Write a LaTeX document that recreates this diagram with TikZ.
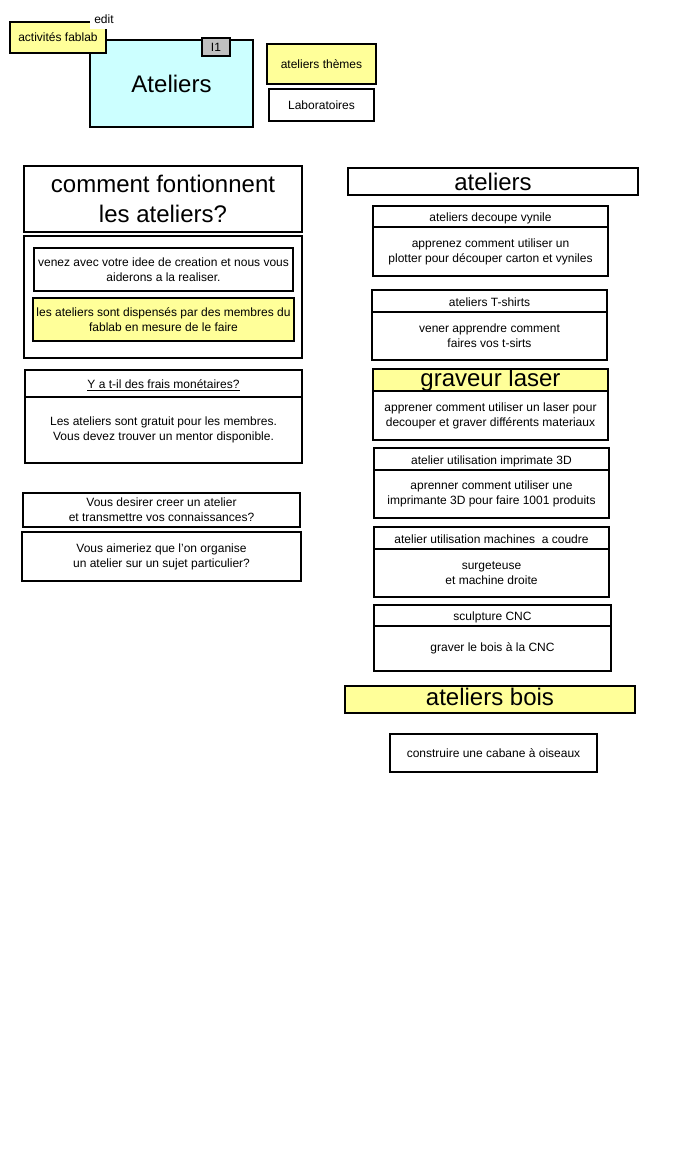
\documentclass[tikz,border=0pt]{standalone}
\usepackage{fontspec}
\setmainfont{Liberation Sans}
\definecolor{notejaune}{HTML}{FFFF99}
\definecolor{notecyan}{HTML}{CCFFFF}
\definecolor{notegris}{HTML}{C0C0C0}
\begin{document}
\begin{tikzpicture}[x=1pt,y=-1pt,
    boite/.style={draw,line width=1.4pt,inner sep=0pt,align=center,font=\fontsize{12}{15}\selectfont},
    grand/.style={font=\fontsize{24}{30}\selectfont},
    tete/.style={text height=11pt,text depth=1pt},
    grandtete/.style={grand,text height=17pt,text depth=5pt},
    jaune/.style={fill=notejaune}]
    \useasboundingbox[fill=white] (0,0) rectangle (675,1175);
    \node[boite,grand,fill=notecyan,minimum width=163pt,minimum height=87pt] (ateliers) at (171.5,83.5) {Ateliers};
    \node[boite,fill=notegris,minimum width=28pt,minimum height=18pt] (ident) at (216,47) {I1};
    \node[boite,jaune,minimum width=96pt,minimum height=31pt] (fablab) at (58,37.5) {activités fablab};
    \node[fill=white,inner sep=0pt,minimum width=28pt,minimum height=19pt,font=\fontsize{12}{15}\selectfont] (edit) at (104,19.5) {edit};
    \node[boite,jaune,minimum width=109pt,minimum height=40pt] (themes) at (321.5,64) {ateliers thèmes};
    \node[boite,minimum width=105pt,minimum height=32pt] (labo) at (321.5,105) {Laboratoires};
    \node[boite,grand,minimum width=278pt,minimum height=66pt] (question) at (163,199) {comment fontionnent\\les ateliers?};
    \node[boite,minimum width=278pt,minimum height=122pt] (groupe) at (163,297) {};
    \node[boite,minimum width=259pt,minimum height=43pt] (venez) at (163.5,269.5) {venez avec votre idee de creation et nous vous\\aiderons a la realiser.};
    \node[boite,jaune,minimum width=261pt,minimum height=43pt] (membres) at (163.5,319.5) {les ateliers sont dispensés par des membres du\\fablab en mesure de le faire};
    \node[boite,minimum width=277pt,minimum height=66pt] (fraiscorps) at (163.5,430) {Les ateliers sont gratuit pour les membres.\\Vous devez trouver un mentor disponible.};
    \node[boite,tete,minimum width=277pt,minimum height=27pt] (fraistete) at (163.5,383.5) {\underline{Y a t-il des frais monétaires?}};
    \node[boite,minimum width=277pt,minimum height=34pt] (creer) at (161.5,510) {Vous desirer creer un atelier\\et transmettre vos connaissances?};
    \node[boite,minimum width=279pt,minimum height=49pt] (organise) at (161.5,556.5) {Vous aimeriez que l'on organise\\un atelier sur un sujet particulier?};
    \node[boite,grand,minimum width=290pt,minimum height=27pt] (liste) at (493,181.5) {ateliers};
    \node[boite,minimum width=235pt,minimum height=49pt] (vynilecorps) at (490.5,251.5) {apprenez comment utiliser un\\plotter pour découper carton et vyniles};
    \node[boite,tete,minimum width=235pt,minimum height=21pt] (vyniletete) at (490.5,216.5) {ateliers decoupe vynile};
    \node[boite,minimum width=235pt,minimum height=48pt] (tshirtcorps) at (489.5,336) {vener apprendre comment\\faires vos t-sirts};
    \node[boite,tete,minimum width=235pt,minimum height=22pt] (tshirttete) at (489.5,301) {ateliers T-shirts};
    \node[boite,minimum width=235pt,minimum height=49pt] (lasercorps) at (490.5,415.5) {apprener comment utiliser un laser pour\\decouper et graver différents materiaux};
    \node[boite,grand,jaune,text height=16pt,text depth=4pt,minimum width=235pt,minimum height=22pt] (lasertete) at (490.5,380) {graveur laser};
    \node[boite,minimum width=235pt,minimum height=48pt] (imprimcorps) at (491.5,494) {aprenner comment utiliser une\\imprimante 3D pour faire 1001 produits};
    \node[boite,tete,minimum width=235pt,minimum height=22pt] (imprimtete) at (491.5,459) {atelier utilisation imprimate 3D};
    \node[boite,minimum width=235pt,minimum height=48pt] (coudrecorps) at (491.5,573) {surgeteuse\\et machine droite};
    \node[boite,tete,minimum width=235pt,minimum height=22pt] (coudretete) at (491.5,538) {atelier utilisation machines\ \ a coudre};
    \node[boite,minimum width=237pt,minimum height=45pt] (cnccorps) at (492.5,648.5) {graver le bois à la CNC};
    \node[boite,tete,minimum width=237pt,minimum height=21pt] (cnctete) at (492.5,615.5) {sculpture CNC};
    \node[boite,grandtete,jaune,minimum width=290pt,minimum height=27pt] (bois) at (490,699.5) {ateliers bois};
    \node[boite,minimum width=207pt,minimum height=38pt] (cabane) at (493.5,753) {construire une cabane à oiseaux};
\end{tikzpicture}
\end{document}
